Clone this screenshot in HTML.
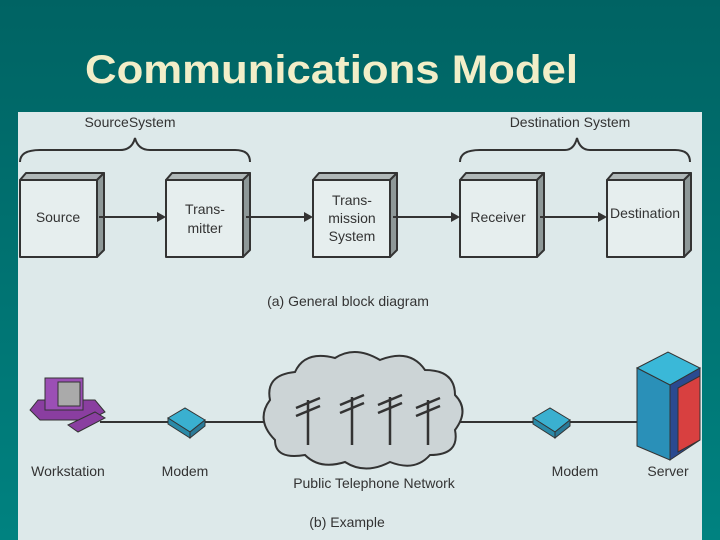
<!DOCTYPE html><html><head><style>
body{margin:0;width:720px;height:540px;overflow:hidden;background:linear-gradient(#006262,#00807e);font-family:"Liberation Sans",sans-serif}
</style></head><body>
<svg width="720" height="540" style="position:absolute;left:0;top:0">
<defs><linearGradient id="bg" x1="0" y1="0" x2="0" y2="1"><stop offset="0" stop-color="#006363"/><stop offset="1" stop-color="#008280"/></linearGradient></defs>
<rect width="720" height="540" fill="url(#bg)"/>
<text x="85" y="83" font-size="40" font-weight="bold" fill="#f2eec8" font-family="Liberation Sans" textLength="493" lengthAdjust="spacingAndGlyphs">Communications Model</text>
<rect x="18" y="112" width="684" height="428" fill="#dde9ea"/>
<g font-size="14" fill="#333" text-anchor="middle">
<text x="130" y="127">SourceSystem</text>
<text x="570" y="127">Destination System</text>
<path d="M20 162 Q20 150 40 150 L120 150 Q132 150 135 138 Q138 150 150 150 L235 150 Q250 150 250 162" fill="none" stroke="#333" stroke-width="2"/>
<path d="M460 162 Q460 150 480 150 L565 150 Q574 150 577 138 Q580 150 590 150 L675 150 Q690 150 690 162" fill="none" stroke="#333" stroke-width="2"/>
<g stroke="#333" stroke-width="2" stroke-linejoin="round">
<g id="b"><polygon points="20,180 26,173 104,173 97,180" fill="#b0b8b8"/><polygon points="97,180 104,173 104,250 97,257" fill="#8e9898"/><rect x="20" y="180" width="77" height="77" fill="#e6eeee"/></g>
<use href="#b" x="146"/><use href="#b" x="293"/><use href="#b" x="440"/><use href="#b" x="587"/>
<line x1="99" y1="217" x2="158" y2="217"/><line x1="246" y1="217" x2="305" y2="217"/><line x1="393" y1="217" x2="452" y2="217"/><line x1="540" y1="217" x2="600" y2="217"/>
</g>
<g fill="#333"><polygon points="166,217 157,212 157,222"/><polygon points="313,217 304,212 304,222"/><polygon points="460,217 451,212 451,222"/><polygon points="607,217 598,212 598,222"/></g>
<text x="58" y="222">Source</text>
<text x="205" y="214">Trans-</text><text x="205" y="233">mitter</text>
<text x="352" y="205">Trans-</text><text x="352" y="223">mission</text><text x="352" y="241">System</text>
<text x="498" y="222">Receiver</text>
<text x="645" y="218">Destination</text>
<text x="348" y="306">(a) General block diagram</text>
<line x1="100" y1="422" x2="640" y2="422" stroke="#333" stroke-width="2"/>
<path d="M275 440 Q255 420 270 400 Q265 375 295 372 Q305 350 335 358 Q355 345 380 360 Q410 348 425 370 Q455 370 455 395 Q470 410 455 430 Q460 455 430 455 Q415 472 390 462 Q365 475 345 462 Q320 470 305 455 Q275 460 275 440Z" fill="#ccd4d6" stroke="#333" stroke-width="2"/>
<g stroke="#333" stroke-width="2.5"><line x1="308" y1="400" x2="308" y2="445"/><line x1="352" y1="397" x2="352" y2="445"/><line x1="390" y1="397" x2="390" y2="445"/><line x1="428" y1="400" x2="428" y2="445"/>
<path d="M296 408 L320 398 M296 416 L320 406 M340 405 L364 395 M340 413 L364 403 M378 405 L402 395 M378 413 L402 403 M416 408 L440 398 M416 416 L440 406"/></g>
<polygon points="30,410 38,400 95,400 105,412 90,420 40,420" fill="#8a3ea0" stroke="#333"/>
<rect x="45" y="378" width="38" height="32" fill="#9b4fb5" stroke="#333"/><rect x="58" y="382" width="22" height="24" fill="#aaa" stroke="#333"/>
<polygon points="68,425 95,412 105,418 78,432" fill="#8a3ea0" stroke="#333"/>
<polygon points="168,418 185,408 205,420 190,432" fill="#3ab0d0" stroke="#333"/><polygon points="168,418 168,424 190,438 190,432" fill="#2a8aa8" stroke="#333"/><polygon points="190,432 205,420 205,426 190,438" fill="#2a7a98" stroke="#333"/>
<polygon points="533,418 550,408 570,420 555,432" fill="#3ab0d0" stroke="#333"/><polygon points="533,418 533,424 555,438 555,432" fill="#2a8aa8" stroke="#333"/><polygon points="555,432 570,420 570,426 555,438" fill="#2a7a98" stroke="#333"/>
<polygon points="637,368 668,352 700,368 670,385" fill="#3ab8d8" stroke="#333"/><polygon points="637,368 670,385 670,460 637,446" fill="#2a90b8" stroke="#333"/><polygon points="670,385 700,368 700,440 670,460" fill="#2a4a90" stroke="#333"/><polygon points="678,388 700,376 700,440 678,452" fill="#d84040" stroke="#333"/>
<text x="68" y="476">Workstation</text><text x="185" y="476">Modem</text><text x="575" y="476">Modem</text><text x="668" y="476">Server</text>
<text x="374" y="488">Public Telephone Network</text>
<text x="347" y="527">(b) Example</text>
</g></svg>
</body></html>
